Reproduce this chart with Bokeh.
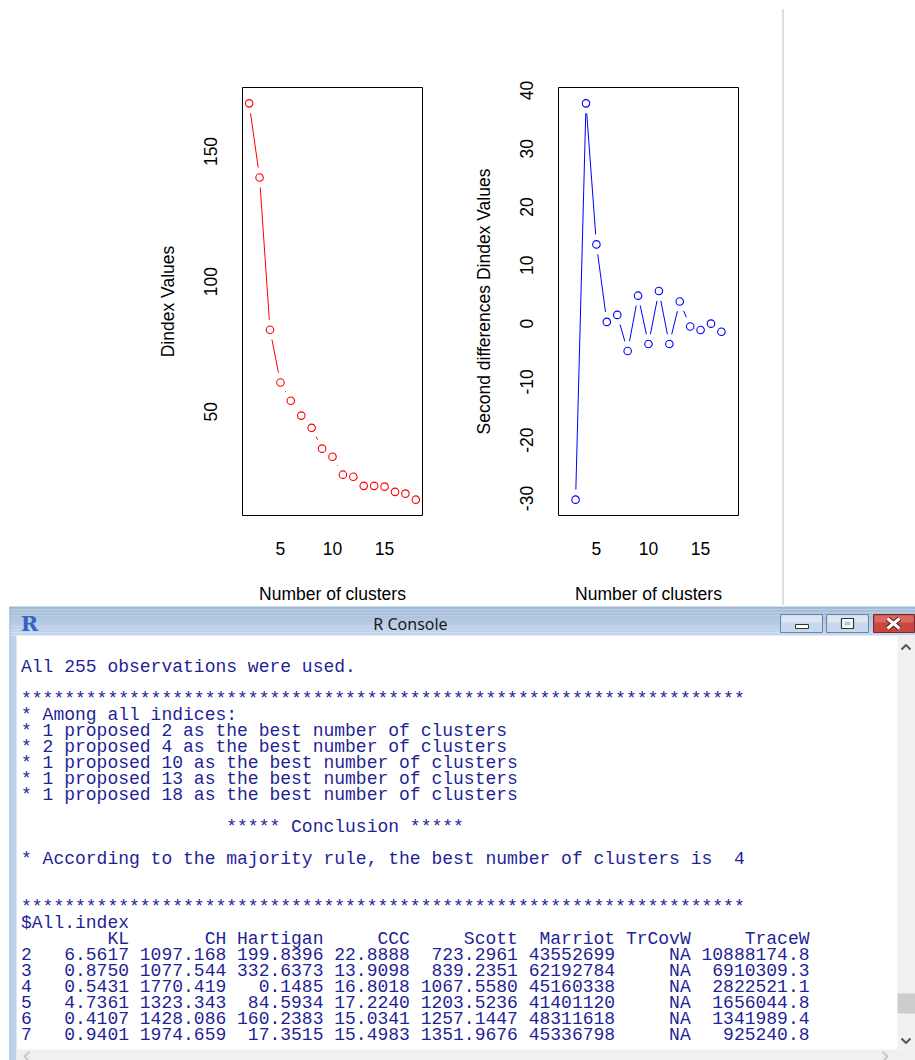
import math
from bokeh.plotting import figure
from bokeh.layouts import row, column
from bokeh.models import Range1d, FixedTicker, Div, PrintfTickFormatter
from bokeh.core.properties import value
from bokeh.embed import file_html
from bokeh.resources import INLINE

# ---------------- data ----------------
clusters = list(range(2, 19))
dindex = [168.5, 140.0, 81.5, 61.2, 54.2, 48.5, 43.8, 35.8, 32.7, 25.8,
          25.0, 21.5, 21.5, 21.2, 19.2, 18.5, 16.2]
clusters2 = list(range(3, 18))
second_diff = [-30.2, 37.8, 13.6, 0.3, 1.5, -4.7, 4.8, -3.5, 5.6, -3.5,
               3.8, -0.5, -1.1, 0.0, -1.4]
x_ticks = [5, 10, 15]
y_ticks_left = [50, 100, 150]
y_ticks_right = [-30, -20, -10, 0, 10, 20, 30, 40]

n_obs = 255
proposal_counts = [1, 2, 1, 1, 1]
proposal_k = [2, 4, 10, 13, 18]
best_k = 4

row_names = ["2", "3", "4", "5", "6", "7"]
col_names = ["KL", "CH", "Hartigan", "CCC", "Scott", "Marriot", "TrCovW", "TraceW"]
KL = ["6.5617", "0.8750", "0.5431", "4.7361", "0.4107", "0.9401"]
CH = ["1097.168", "1077.544", "1770.419", "1323.343", "1428.086", "1974.659"]
Hartigan = ["199.8396", "332.6373", "0.1485", "84.5934", "160.2383", "17.3515"]
CCC = ["22.8888", "13.9098", "16.8018", "17.2240", "15.0341", "15.4983"]
Scott = ["723.2961", "839.2351", "1067.5580", "1203.5236", "1257.1447", "1351.9676"]
Marriot = ["43552699", "62192784", "45160338", "41401120", "48311618", "45336798"]
TrCovW = ["NA", "NA", "NA", "NA", "NA", "NA"]
TraceW = ["10888174.8", "6910309.3", "2822521.1", "1656044.8", "1341989.4", "925240.8"]

# ---------------- helpers ----------------
FONT = "Liberation Sans"
FW, FH = 180, 428
GAP = 10.0


def r_range(vals):
    lo, hi = min(vals), max(vals)
    pad = 0.04 * (hi - lo)
    return lo - pad, hi + pad


def gapped(xs, ys, xr, yr):
    sx = FW / (xr[1] - xr[0])
    sy = FH / (yr[1] - yr[0])
    x0, y0, x1, y1 = [], [], [], []
    for i in range(len(xs) - 1):
        dx = (xs[i + 1] - xs[i]) * sx
        dy = (ys[i + 1] - ys[i]) * sy
        d = math.hypot(dx, dy)
        if d > 2 * GAP:
            t = GAP / d
            x0.append(xs[i] + t * (xs[i + 1] - xs[i]))
            y0.append(ys[i] + t * (ys[i + 1] - ys[i]))
            x1.append(xs[i + 1] - t * (xs[i + 1] - xs[i]))
            y1.append(ys[i + 1] - t * (ys[i + 1] - ys[i]))
    return x0, y0, x1, y1


def make_plot(xs, ys, color, yticks, ylabel, border_left, border_right):
    xr = r_range(clusters)
    yr = r_range(ys)
    p = figure(frame_width=FW, frame_height=FH, x_range=Range1d(*xr), y_range=Range1d(*yr),
               output_backend="svg", toolbar_location=None, title=None,
               min_border_left=border_left, min_border_right=border_right,
               min_border_top=87, min_border_bottom=90)
    p.background_fill_color = "white"
    p.border_fill_color = "white"
    p.outline_line_color = "#000000"
    p.outline_line_width = 1
    p.xgrid.visible = False
    p.ygrid.visible = False
    x0, y0, x1, y1 = gapped(xs, ys, xr, yr)
    p.segment(x0=x0, y0=y0, x1=x1, y1=y1, line_color=color, line_width=1)
    p.scatter(xs, ys, marker="circle", size=7.5, fill_color=None, line_color=color, line_width=1.1)
    p.xaxis.ticker = FixedTicker(ticks=x_ticks)
    p.yaxis.ticker = FixedTicker(ticks=yticks)
    p.xaxis.formatter = PrintfTickFormatter(format="%d")
    p.yaxis.formatter = PrintfTickFormatter(format="%d")
    p.xaxis.axis_label = "Number of clusters"
    p.yaxis.axis_label = ylabel
    for ax in p.axis:
        ax.axis_line_color = None
        ax.major_tick_line_color = None
        ax.minor_tick_line_color = None
        ax.major_tick_out = 0
        ax.major_tick_in = 0
        ax.major_label_text_font = FONT
        ax.major_label_text_font_size = "17.5px"
        ax.major_label_text_color = "#000000"
        ax.axis_label_text_font = FONT
        ax.axis_label_text_font_size = "17.5px"
        ax.axis_label_text_font_style = "normal"
        ax.axis_label_text_color = "#000000"
    p.yaxis.major_label_orientation = "vertical"
    p.xaxis.major_label_standoff = 26
    p.yaxis.major_label_standoff = 25
    p.xaxis.axis_label_standoff = 26
    p.yaxis.axis_label_standoff = 24
    return p


p1 = make_plot(clusters, dindex, "#ff0000", y_ticks_left, "Dindex Values", 242, 10)
p2 = make_plot(clusters2, second_diff, "#0000ff", y_ticks_right,
               "Second differences Dindex Values", 126, 22)

# filler with the thin vertical divider (pure decoration)
fill = Div(width=155, height=605, margin=(0, 0, 0, 0),
           text='<div style="position:absolute;left:22px;top:9px;width:2px;height:596px;'
                'background:#d9e0e9"></div>',
           styles={"position": "relative", "background": "white"})

# ---------------- console ----------------
con = figure(width=915, height=455, x_range=Range1d(0, 915), y_range=Range1d(1060, 605),
             x_axis_type=None, y_axis_type=None, output_backend="svg", toolbar_location=None,
             min_border=0, min_border_left=0, min_border_right=0, min_border_top=0, min_border_bottom=0)
con.outline_line_color = None
con.grid.visible = False
con.background_fill_color = "white"

# title bar gradient
nb = 10
c0 = (164, 188, 216)
c1 = (195, 214, 237)
tops, bots, cols = [], [], []
for i in range(nb):
    t = i / (nb - 1)
    c = tuple(int(round(c0[k] + (c1[k] - c0[k]) * t)) for k in range(3))
    tops.append(605 + i * 2.9)
    bots.append(605 + (i + 1) * 2.9)
    cols.append("#%02x%02x%02x" % c)
con.quad(left=9, right=915, top=tops, bottom=bots, fill_color=cols, line_color=None)
con.segment(x0=[9], y0=[605.5], x1=[915], y1=[605.5], line_color="#93aecb", line_width=1)
# left window border
con.quad(left=[9], right=[16], top=[634], bottom=[1060], fill_color="#bcd3eb", line_color=None)
con.segment(x0=[9.5], y0=[605], x1=[9.5], y1=[1060], line_color="#9fb8d4", line_width=1)
# scrollbars
con.quad(left=[897], right=[915], top=[634], bottom=[1048], fill_color="#f0f0f0", line_color=None)
con.quad(left=[897], right=[915], top=[992], bottom=[1012], fill_color="#cdcdcd", line_color=None)
con.quad(left=[16], right=[915], top=[1048], bottom=[1060], fill_color="#f0f0f0", line_color=None)
con.multi_line(xs=[[901, 905.5, 910], [901, 905.5, 910], [29, 24, 29], [882, 887, 882]],
               ys=[[648, 643.5, 648], [1037, 1041.5, 1037], [1050, 1055, 1060], [1050, 1055, 1060]],
               line_color=["#555555", "#555555", "#c8c8c8", "#c8c8c8"], line_width=2)

# window buttons
con.quad(left=[780, 826], right=[822, 868], top=[613, 613], bottom=[631, 631],
         fill_color="#c8d8ec", line_color="#6e85a3", line_width=1)
con.quad(left=[781, 827], right=[821, 867], top=[614, 614], bottom=[621, 621],
         fill_color="#dbe6f3", line_color=None)
con.quad(left=[873], right=[914], top=[613], bottom=[631], fill_color="#c9473e",
         line_color="#7a2a25", line_width=1)
con.quad(left=[874], right=[913], top=[614], bottom=[621], fill_color="#d8695f", line_color=None)
# minimize icon
con.quad(left=[795], right=[808], top=[623], bottom=[627], fill_color="white", line_color="#333333", line_width=1)
# maximize icon
con.quad(left=[841], right=[853], top=[617], bottom=[627], fill_color="white", line_color="#333333", line_width=1.2)
con.quad(left=[844], right=[850], top=[620], bottom=[624], fill_color="#b7c8dc", line_color=None)
# close icon
con.segment(x0=[887, 887], y0=[617, 627], x1=[899, 899], y1=[627, 617], line_color="#5a1d18", line_width=5)
con.segment(x0=[887, 887], y0=[617, 627], x1=[899, 899], y1=[627, 617], line_color="white", line_width=3)

# title text and R logo
con.text(x=[410], y=[622], text=["R Console"], text_font=value("Noto Sans"), text_font_size="16px",
         text_color="#1b1b1b", text_align="center", text_baseline="middle")
con.text(x=[29], y=[622], text=["R"], text_font=value("DejaVu Serif"), text_font_size="21px",
         text_font_style="bold", text_color="#3a62c2", text_align="center", text_baseline="middle")

# console lines
stars = "*" * 67
col_widths = [7, 8, 8, 7, 9, 8, 6, 10]
columns = [KL, CH, Hartigan, CCC, Scott, Marriot, TrCovW, TraceW]
lines = {}
lines[0] = "All %d observations were used." % n_obs
lines[2] = stars
lines[3] = "* Among all indices: "
for i, (c, k) in enumerate(zip(proposal_counts, proposal_k)):
    lines[4 + i] = "* %d proposed %d as the best number of clusters " % (c, k)
lines[10] = " " * 19 + "***** Conclusion *****  "
lines[12] = "* According to the majority rule, the best number of clusters is  %d " % best_k
lines[15] = stars
lines[16] = "$All.index"
lines[17] = "  " + "".join(" " + n.rjust(w) for n, w in zip(col_names, col_widths))
for r, rn in enumerate(row_names):
    lines[18 + r] = rn.ljust(2) + "".join(" " + columns[j][r].rjust(col_widths[j])
                                          for j in range(len(columns)))

keys = sorted(lines)
NBSP = "\u00a0"
con.text(x=[20.5] * len(keys), y=[665 + 16 * k for k in keys],
         text=[lines[k].rstrip().replace(" ", NBSP) for k in keys],
         text_font=value("Liberation Mono"), text_font_size="18px", text_color="#1f1f98",
         text_align="left", text_baseline="middle")

layout = column(row(p1, p2, fill), con)
open("out.html", "w").write(file_html(layout, INLINE, title="NbClust Dindex"))
